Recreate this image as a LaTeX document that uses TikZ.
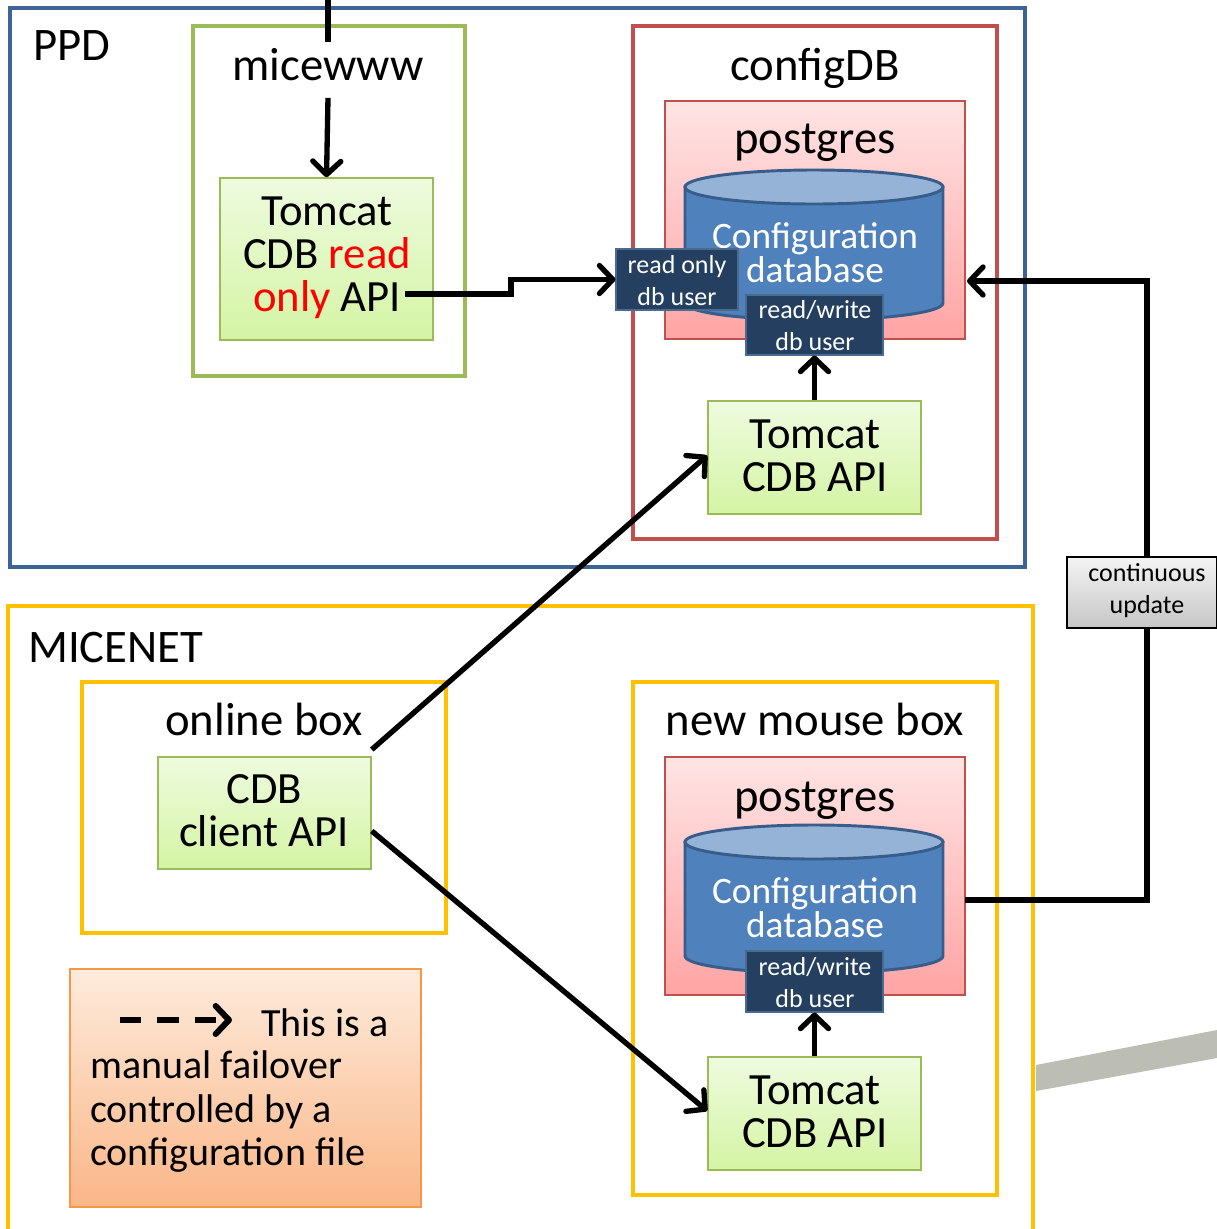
\documentclass[tikz,border=0pt]{standalone}
\usepackage{fontspec}
\setmainfont{Carlito}
\usetikzlibrary{arrows.meta,fit,calc}
\definecolor{ppdblue}{HTML}{3C6494}
\definecolor{grn}{HTML}{9BBB59}
\definecolor{redf}{HTML}{C0504D}
\definecolor{ora}{HTML}{FFC000}
\definecolor{lgA}{HTML}{EEFBDF}
\definecolor{lgB}{HTML}{D4F4A4}
\definecolor{pkA}{HTML}{FFE4E4}
\definecolor{pkB}{HTML}{FFA4A4}
\definecolor{navy}{HTML}{243F60}
\definecolor{navyb}{HTML}{4A6A90}
\definecolor{cylF}{HTML}{4F81BD}
\definecolor{cylT}{HTML}{95B3D7}
\definecolor{cylD}{HTML}{385D8A}
\definecolor{lgdA}{HTML}{FDEBDC}
\definecolor{lgdB}{HTML}{FAB687}
\definecolor{lgdD}{HTML}{F79646}
\definecolor{gryA}{HTML}{F4F4F4}
\definecolor{gryB}{HTML}{C6C6C6}
\definecolor{bar}{HTML}{BCBDB5}
\newcommand\fmain{\fontsize{33.5}{32.3}\selectfont}
\newcommand\ftitle{\fontsize{35}{36}\selectfont}
\newcommand\fcyl{\fontsize{28}{25.5}\selectfont}
\newcommand\fsmall{\fontsize{19.5}{24}\selectfont}
\newcommand\flegend{\fontsize{30}{33}\selectfont}
\begin{document}
\begin{tikzpicture}[x=0.75pt,y=-0.75pt,
  frame/.style={draw, line width=3.3pt, inner sep=0pt},
  greenbox/.style={draw=grn, line width=1.2pt, top color=lgA, bottom color=lgB, inner sep=0pt},
  pinkbox/.style={draw=redf, line width=1.2pt, top color=pkA, bottom color=pkB, inner sep=0pt},
  userbox/.style={draw=navyb, line width=0.8pt, fill=navy, inner sep=0pt},
  boxtext/.style={inner sep=0pt, align=center, font=\fmain},
  usertext/.style={inner sep=0pt, align=center, font=\fsmall, text=white},
  title/.style={anchor=base, inner sep=0pt, font=\ftitle},
  conn/.style={line width=4pt},
  arr/.style={line width=4pt, -{Straight Barb[length=10pt,width=21pt,round]}},
]
\useasboundingbox (0,0) rectangle (1217,1229);

% gray bar
\fill[bar] (1036,1065) -- (1217,1030) -- (1217,1058) -- (1036,1091) -- cycle;

% PPD
\node[frame, draw=ppdblue, fit={(10,8) (1025,567)}] (ppd) {};
\node[title, anchor=base west] (ppdl) at (33,60) {PPD};

% micewww
\node[frame, draw=grn, fit={(193,26) (465,376)}] (mwbox) {};
\node[title] (mw) at (328,80) {micewww};
\node[greenbox, fit={(220,178) (433,340)}] (tro) {};
\node[boxtext] (trot) at (327,258) {Tomcat\\CDB {\color{red}read}\\{\color{red}only} API};
\coordinate (apiend) at (405,294);
\coordinate (top) at (328,0);

% configDB
\node[frame, draw=redf, fit={(633,26) (997,539)}] (cdbbox) {};
\node[title] (cdbl) at (815,80) {configDB};
\node[pinkbox, fit={(665,101) (965,339)}] (pg1) {};
\node[title] (pg1l) at (815,153) {postgres};
\filldraw[fill=cylF, draw=cylD, line width=2.2pt] (685,187) -- (685,303) arc[start angle=180, end angle=0, x radius=129, y radius=17] -- (943,187) -- cycle;
\filldraw[fill=cylT, draw=cylD, line width=2.2pt] (814,187) ellipse[x radius=129, y radius=17];
\node[font=\fcyl, text=white, align=center, inner sep=0pt] (db1) at (815,253) {Configuration\\database};
\node[userbox, fit={(616,249) (738,310)}] (ro) {};
\node[usertext] (rot) at (677,281) {read only\\db user};
\node[userbox, fit={(746,295) (883,355)}] (rw1) {};
\node[usertext] (rw1t) at (815,326) {read/write\\db user};
\node[greenbox, fit={(708,401) (921,514)}] (tc1) {};
\node[boxtext] (tc1t) at (815,456) {Tomcat\\CDB API};
\coordinate (c1in) at (967,281);

% MICENET
\node[frame, draw=ora, fit={(8,606) (1033,1240)}] (micenet) {};
\node[title, anchor=base west] (micel) at (28,662) {MICENET};

% online box
\node[frame, draw=ora, fit={(82,682) (446,933)}] (onbox) {};
\node[title] (onl) at (264,735) {online box};
\node[greenbox, fit={(158,757) (371,869)}] (cli) {};
\node[boxtext] (clit) at (264,811) {CDB\\client API};

% new mouse box
\node[frame, draw=ora, fit={(633,682) (997,1195)}] (nmbox) {};
\node[title] (nml) at (815,735) {new mouse box};
\node[pinkbox, fit={(665,757) (965,995)}] (pg2) {};
\node[title] (pg2l) at (815,811) {postgres};
\filldraw[fill=cylF, draw=cylD, line width=2.2pt] (685,842) -- (685,956) arc[start angle=180, end angle=0, x radius=129, y radius=17] -- (943,842) -- cycle;
\filldraw[fill=cylT, draw=cylD, line width=2.2pt] (814,842) ellipse[x radius=129, y radius=17];
\node[font=\fcyl, text=white, align=center, inner sep=0pt] (db2) at (815,908) {Configuration\\database};
\node[userbox, fit={(746,951) (883,1012)}] (rw2) {};
\node[usertext] (rw2t) at (815,983) {read/write\\db user};
\node[greenbox, fit={(708,1057) (921,1170)}] (tc2) {};
\node[boxtext] (tc2t) at (815,1112) {Tomcat\\CDB API};
\coordinate (c2out) at (965,900);

% continuous update
\node[draw=black, line width=1.2pt, top color=gryA, bottom color=gryB, inner sep=0pt, fit={(1067,557) (1217,628)}] (cu) {};
\node[usertext, text=black] (cut) at (1147,591) {continuous\\update};
\coordinate (cuS) at (1147,628);
\coordinate (cuN) at (1147,557);

% legend
\node[draw=lgdD, line width=1.2pt, top color=lgdA, bottom color=lgdB, inner sep=0pt, fit={(70,969) (421,1207)}] (leg) {};
\coordinate (la) at (120,1020);
\coordinate (lb) at (232,1020);
\node[font=\flegend, anchor=base west, inner sep=0pt] (leg1) at (261,1036) {This is a};
\node[font=\flegend, anchor=base west, inner sep=0pt] (leg2) at (90,1078) {manual failover};
\node[font=\flegend, anchor=base west, inner sep=0pt] (leg3) at (90,1122) {controlled by a};
\node[font=\flegend, anchor=base west, inner sep=0pt] (leg4) at (90,1165) {configuration file};

% connectors
\draw[conn] (top) -- ([yshift=4pt]mw.north);
\draw[arr] (mw.south) ++(0,-13pt) -- (tro.north);
\draw[arr] (apiend) -- ++(106,0) |- (ro.west);
\draw[arr] (tc1.north) -- (rw1.south);
\draw[arr] (tc2.north) -- (rw2.south);
\draw[conn] (c2out) -| (cuS);
\draw[arr] (cuN) |- (c1in);
\draw[arr] ([yshift=5pt]cli.north east) -- ([yshift=1.5pt]tc1.west);
\draw[arr] ([yshift=-13.5pt]cli.east) -- ([yshift=2pt]tc2.west);
\draw[arr, line width=4.5pt, dash pattern=on 16pt off 12pt] (la) -- (lb);
\end{tikzpicture}
\end{document}
